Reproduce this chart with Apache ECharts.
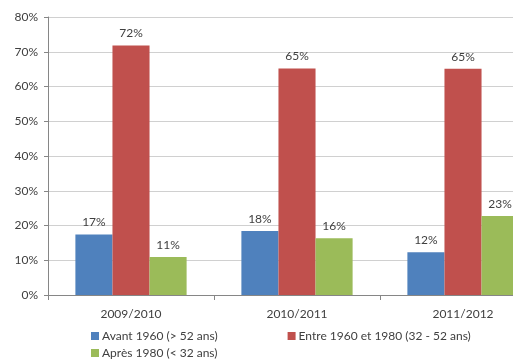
<!DOCTYPE html>
<html>
<head>
<meta charset="utf-8">
<script src="https://cdn.jsdelivr.net/npm/echarts@6/dist/echarts.min.js"></script>
<style>
html, body { margin: 0; padding: 0; background: #fff; }
#chart { width: 513px; height: 362px; }
</style>
</head>
<body>
<div id="chart"></div>
<script>
var categories = ['2009/2010', '2010/2011', '2011/2012'];
var seriesNames = ['Avant 1960 (> 52 ans)', 'Entre 1960 et 1980 (32 - 52 ans)', 'Après 1980 (< 32 ans)'];
var avant1960 = [17.4, 18.4, 12.3];
var entre1960_1980 = [71.8, 65.2, 65.1];
var apres1980 = [10.9, 16.3, 22.7];
var colors = ['#4f81bd', '#c0504d', '#9bbb59'];

var font = 'Lato';
var chart = echarts.init(document.getElementById('chart'));

function makeSeries(name, data, color) {
	return {
		name : name,
		type : 'bar',
		data : data,
		barGap : '0%',
		barCategoryGap : '33%',
		itemStyle : { color : color },
		label : {
			show : true,
			position : 'top',
			distance : 6,
			color : '#404040',
			fontFamily : font,
			fontSize : 12,
			formatter : function (p) { return Math.round(p.value) + '%'; }
		}
	};
}

function makeLegend(names, left, top) {
	return {
		left : left,
		top : top,
		itemWidth : 8,
		itemHeight : 8,
		itemGap : 70,
		icon : 'rect',
		padding : 0,
		textStyle : { color : '#404040', fontFamily : font, fontSize : 12, padding : [0, 0, 0, -2] },
		data : names
	};
}

var option = {
	animation : false,
	// plot area runs past the right edge, as in the original
	grid : { left : 48, top : 17, width : 498, height : 278, outerBoundsMode : 'none', containLabel : false },
	legend : [
		makeLegend([seriesNames[0], seriesNames[1]], 91, 330),
		makeLegend([seriesNames[2]], 91, 347)
	],
	xAxis : {
		type : 'category',
		data : categories,
		axisLine : { lineStyle : { color : '#868686' } },
		axisTick : { show : true, length : 5, lineStyle : { color : '#868686' } },
		axisLabel : { color : '#404040', fontFamily : font, fontSize : 12, margin : 13 }
	},
	yAxis : {
		type : 'value',
		min : 0,
		max : 80,
		interval : 10,
		axisLine : { show : true, lineStyle : { color : '#868686' } },
		axisTick : { show : true, length : 4, lineStyle : { color : '#868686' } },
		axisLabel : { color : '#404040', fontFamily : font, fontSize : 12, margin : 10,
			formatter : '{value}%' },
		splitLine : { lineStyle : { color : '#d0d0d0' } }
	},
	series : [
		makeSeries(seriesNames[0], avant1960, colors[0]),
		makeSeries(seriesNames[1], entre1960_1980, colors[1]),
		makeSeries(seriesNames[2], apres1980, colors[2])
	]
};
chart.setOption(option);
</script>
</body>
</html>
